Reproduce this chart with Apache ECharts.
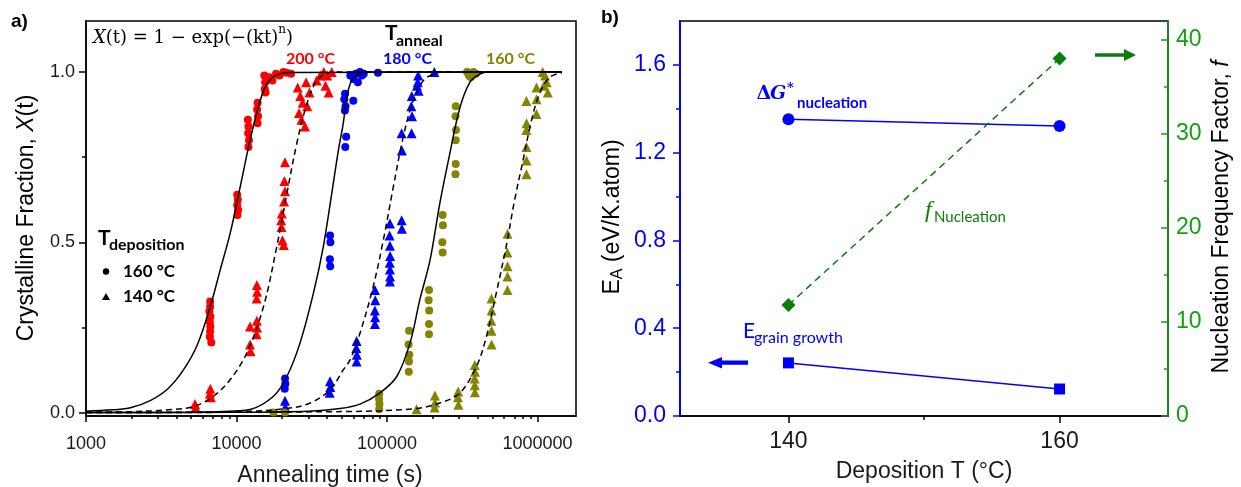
<!DOCTYPE html>
<html><head><meta charset="utf-8">
<script src="https://cdn.jsdelivr.net/npm/echarts@6/dist/echarts.min.js"></script>
<style>html,body{margin:0;padding:0;background:#fff}#c{width:1241px;height:487px}</style>
</head><body><div id="c"></div>
<script>
// ---------- Panel a) tick values ----------
const xMajorTicks = [1000, 10000, 100000, 1000000];
const xMinorTicks = [2000,3000,4000,5000,6000,7000,8000,9000,20000,30000,40000,50000,60000,70000,80000,90000,200000,300000,400000,500000,600000,700000,800000,900000];
const yMajorTicks = [0, 0.5, 1.0];
const yMinorTicks = [0.25, 0.75];

// ---------- Panel a) fitted curves (read from picture) ----------
const red160CurveT = [1000,1500,2000,2670,3500,4450,5500,6680,7800,9080,10570,12300,14350,15900,18500,22700,1450000];
const red160CurveX = [0.004,0.008,0.015,0.035,0.07,0.126,0.2,0.31,0.42,0.527,0.662,0.8,0.916,0.965,0.992,0.999,1.0];
const red140CurveT = [1000,2000,3500,5180,7030,9080,11700,15100,18500,21600,25100,29300,34100,39700,45000,1450000];
const red140CurveX = [0.001,0.003,0.008,0.018,0.048,0.097,0.175,0.311,0.487,0.643,0.789,0.906,0.975,0.996,1.0,1.0];
const blue160CurveT = [1000,5000,9000,12300,17600,21600,26400,32400,37700,42900,47500,51200,54000,58200,66100,75000,1450000];
const blue160CurveX = [0.0,0.001,0.004,0.009,0.048,0.106,0.204,0.35,0.487,0.643,0.77,0.85,0.926,0.975,0.996,1.0,1.0];
const blue140CurveT = [1000,10000,21600,30800,41800,51300,56800,66100,80900,94400,110000,128000,149000,174000,203000,230000,1450000];
const blue140CurveX = [0.0,0.003,0.012,0.028,0.067,0.126,0.155,0.233,0.37,0.506,0.662,0.809,0.916,0.975,0.994,1.0,1.0];
const olive160CurveT = [1000,10000,30000,48700,66100,89800,116000,142000,165000,193000,224000,261000,305000,355000,413000,470000,1450000];
const olive160CurveX = [0.0,0.001,0.004,0.012,0.025,0.058,0.106,0.204,0.331,0.448,0.614,0.76,0.896,0.97,0.994,1.0,1.0];
const olive140CurveT = [1000,50000,149000,224000,305000,393000,457000,531000,618000,703000,800000,910000,1030000,1200000,1450000];
const olive140CurveX = [0.0,0.003,0.011,0.028,0.058,0.136,0.223,0.35,0.487,0.623,0.74,0.857,0.936,0.984,0.998];

// ---------- Panel a) measured points [time (s), fraction] ----------
const red160Points = [[6680,0.326],[6680,0.311],[6600,0.297],[6700,0.282],[6650,0.267],[6700,0.253],[6680,0.238],[6650,0.223],[6800,0.206],
  [10100,0.64],[10200,0.625],[10100,0.61],[10250,0.595],[10150,0.58],
  [11900,0.86],[12000,0.84],[11950,0.82],[12100,0.80],[12000,0.78],
  [13800,0.91],[13700,0.89],[13900,0.87],[13800,0.85],
  [15300,0.99],[15500,0.97],[15400,0.95],[15600,0.94],
  [16500,0.985],[17300,0.975],[18300,0.995],[19300,0.99],[20500,1.0],[21500,0.998],[23000,0.995]];
const red140Points = [[5300,0.025],[5350,0.015],
  [6700,0.07],[6650,0.055],[6750,0.045],
  [12300,0.2],[12400,0.18],[12300,0.253],
  [13650,0.375],[13700,0.355],[13600,0.335],[13650,0.27],[13700,0.25],[13600,0.23],
  [21000,0.735],[20800,0.68],[21000,0.65],[20700,0.62],[20000,0.585],[19800,0.565],[19900,0.545],[20200,0.506],[20600,0.492],
  [25500,0.955],[26500,0.93],[27500,0.91],[26000,0.88],[27000,0.86],[28500,0.84],[29500,0.9],[30500,0.94],[29000,0.97],
  [34100,0.975],[36000,0.99],[38000,1.0],[40000,0.99],[42900,1.0],[39000,0.96],[41000,0.94]];
const blue160Points = [[21000,0.10],[21100,0.085],[20900,0.07],
  [41800,0.52],[42000,0.50],[41700,0.45],[41900,0.43],
  [52600,0.936],[52000,0.92],[53000,0.9],[52500,0.887],[53500,0.81],[52800,0.78],
  [59700,0.916],
  [57000,0.99],[60000,0.98],[62000,0.995],[64000,0.97],[66000,1.0],[68000,0.99],[70000,0.995],
  [87000,0.998]];
const blue140Points = [[21000,0.035],[21100,0.016],
  [41800,0.092],[42000,0.075],[41600,0.058],
  [62800,0.21],[62500,0.19],[63000,0.17],[62800,0.15],
  [83100,0.36],[83500,0.33],[83000,0.30],[83300,0.28],[83100,0.26],
  [104500,0.555],[104000,0.52],[104500,0.49],[104800,0.46],[104200,0.44],[104500,0.42],[104700,0.40],[104500,0.385],
  [125000,0.565],[125500,0.54],[125000,0.82],[125500,0.77],
  [146000,0.93],[145000,0.90],[146500,0.87],[145500,0.82],
  [161000,0.99],[160000,0.97],[162000,0.945],[158000,0.96],
  [206000,1.0]];
const olive160Points = [[17600,0.0],[21000,0.0],
  [88700,0.055],[88500,0.04],[89000,0.025],[88700,0.01],
  [140000,0.24],[139000,0.2],[140500,0.17],[140000,0.15],[139500,0.12],
  [190000,0.36],[189000,0.33],[190500,0.3],[190000,0.26],[190000,0.23],
  [234000,0.58],[235000,0.55],[233000,0.5],[234000,0.47],
  [286000,0.9],[285000,0.87],[287000,0.83],[286000,0.8],[286000,0.73],[285000,0.7],
  [340000,1.0],[350000,0.99],[360000,0.985],[375000,1.0],[390000,0.995]];
const olive140Points = [[157000,0.01],
  [208000,0.05],[208500,0.03],[207000,0.015],
  [297000,0.062],[296000,0.045],[298000,0.023],
  [383000,0.14],[384000,0.12],[382000,0.1],[383000,0.08],[383500,0.06],
  [494000,0.335],[495000,0.3],[493000,0.27],[494000,0.24],[494500,0.2],
  [631000,0.525],[630000,0.47],[632000,0.43],[631000,0.4],[631000,0.36],
  [843000,0.915],[845000,0.85],[842000,0.83],[843000,0.78],[844000,0.74],[843000,0.7],
  [984000,0.955],[985000,0.92],[983000,0.877],
  [1080000,1.0],[1120000,0.99],[1150000,0.97],[1170000,0.94],[1100000,0.96]];

// ---------- Panel b) ----------
const depTicks = [140, 160];
const depMinorTicks = [150];
const eaTicks = [0, 0.4, 0.8, 1.2, 1.6];
const eaMinorTicks = [0.2, 0.6, 1.0, 1.4];
const fTicks = [0, 10, 20, 30, 40];
const fMinorTicks = [5, 15, 25, 35];
const depositionT = [140, 160];
const dGNucleation = [1.352, 1.321];
const eGrainGrowth = [0.242, 0.123];
const fNucleation = [11.8, 38.0];

const RED = '#ff0000', BLUE = '#0000ff', OLIVE = '#848400';
const GREEN_AX = '#12a012', GREEN_MK = '#0b7d0b';
const SANS = "'Liberation Sans', Arial, sans-serif";
const CAL = "Lato, 'Open Sans', sans-serif";
const SERIF = "'DejaVu Serif', 'Liberation Serif', serif";

const zip = (a, b) => a.map((v, i) => [v, b[i]]);
function curve(ts, xs, dashed) {
  return {type: 'line', xAxisIndex: 0, yAxisIndex: 0, data: zip(ts, xs), showSymbol: false, symbol: 'none',
    smooth: 0.35, lineStyle: {color: '#000', width: 1.5, type: dashed ? [6, 4] : 'solid'}, z: 4, silent: true};
}
function scat(pts, color, sym, size) {
  return {type: 'scatter', xAxisIndex: 0, yAxisIndex: 0, data: pts, symbol: sym, symbolSize: size,
    itemStyle: {color: color, opacity: 1}, z: 3, silent: true};
}
const tickLine = c => ({color: c, width: 1.5});

const option = {
  animation: false,
  backgroundColor: '#fff',
  grid: [
    {left: 86, top: 21, width: 490, height: 395, show: true, borderColor: '#000', borderWidth: 1.5, outerBoundsMode: 'none'},
    {left: 680, top: 21, width: 488, height: 395, show: true, borderColor: '#000', borderWidth: 1.5, outerBoundsMode: 'none'}
  ],
  xAxis: [
    {type: 'log', logBase: 10, gridIndex: 0, position: 'bottom', min: 1000, max: 1800000,
      axisLine: {show: true, onZero: false, lineStyle: {color: '#000', width: 1.5}},
      axisTick: {show: true, customValues: xMajorTicks, length: 6, lineStyle: tickLine('#000')},
      axisLabel: {customValues: xMajorTicks, formatter: v => String(Math.round(v)), fontSize: 18, fontFamily: SANS, color: '#1a1a1a', margin: 19},
      splitLine: {show: false}},
    {type: 'log', logBase: 10, gridIndex: 0, position: 'bottom', min: 1000, max: 1800000,
      axisLine: {show: false, onZero: false}, axisTick: {show: true, customValues: xMinorTicks, length: 3, lineStyle: tickLine('#000')},
      axisLabel: {show: false}, splitLine: {show: false}},
    {type: 'value', gridIndex: 1, position: 'bottom', min: 132, max: 168,
      axisLine: {show: true, onZero: false, lineStyle: {color: '#000', width: 1.5}},
      axisTick: {show: true, customValues: depTicks, length: 7, lineStyle: tickLine('#000')},
      axisLabel: {customValues: depTicks, fontSize: 23, fontFamily: SANS, color: '#1a1a1a', margin: 14},
      splitLine: {show: false}},
    {type: 'value', gridIndex: 1, position: 'bottom', min: 132, max: 168,
      axisLine: {show: false, onZero: false}, axisTick: {show: true, customValues: depMinorTicks, length: 4, lineStyle: tickLine('#000')},
      axisLabel: {show: false}, splitLine: {show: false}}
  ],
  yAxis: [
    {type: 'value', gridIndex: 0, position: 'left', min: -0.01, max: 1.15,
      axisLine: {show: true, onZero: false, lineStyle: {color: '#000', width: 1.5}},
      axisTick: {show: true, customValues: yMajorTicks, length: 7, lineStyle: tickLine('#000')},
      axisLabel: {customValues: yMajorTicks, formatter: v => v.toFixed(1), fontSize: 18, fontFamily: SANS, color: '#1a1a1a', margin: 11},
      splitLine: {show: false}},
    {type: 'value', gridIndex: 0, position: 'left', min: -0.01, max: 1.15,
      axisLine: {show: false, onZero: false}, axisTick: {show: true, customValues: yMinorTicks, length: 4, lineStyle: tickLine('#000')},
      axisLabel: {show: false}, splitLine: {show: false}},
    {type: 'value', gridIndex: 1, position: 'left', min: 0, max: 1.8,
      axisLine: {show: true, onZero: false, lineStyle: {color: BLUE, width: 2}},
      axisTick: {show: true, customValues: eaTicks, length: 7, lineStyle: tickLine(BLUE)},
      axisLabel: {customValues: eaTicks, formatter: v => v.toFixed(1), fontSize: 23, fontFamily: SANS, color: BLUE, margin: 14},
      splitLine: {show: false}},
    {type: 'value', gridIndex: 1, position: 'left', min: 0, max: 1.8,
      axisLine: {show: false, onZero: false}, axisTick: {show: true, customValues: eaMinorTicks, length: 4, lineStyle: tickLine(BLUE)},
      axisLabel: {show: false}, splitLine: {show: false}},
    {type: 'value', gridIndex: 1, position: 'right', min: 0, max: 42,
      axisLine: {show: true, onZero: false, lineStyle: {color: GREEN_AX, width: 1.5}},
      axisTick: {show: true, inside: true, customValues: fTicks, length: 7, lineStyle: tickLine(GREEN_AX)},
      axisLabel: {customValues: fTicks, formatter: v => String(v), fontSize: 23, fontFamily: SANS, color: GREEN_AX, margin: 8},
      splitLine: {show: false}},
    {type: 'value', gridIndex: 1, position: 'right', min: 0, max: 42,
      axisLine: {show: false, onZero: false}, axisTick: {show: true, inside: true, customValues: fMinorTicks, length: 4, lineStyle: tickLine(GREEN_AX)},
      axisLabel: {show: false}, splitLine: {show: false}}
  ],
  series: [
    scat(red160Points, RED, 'circle', 8),
    scat(red140Points, RED, 'triangle', 10),
    scat(blue160Points, BLUE, 'circle', 8),
    scat(blue140Points, BLUE, 'triangle', 10),
    scat(olive160Points, OLIVE, 'circle', 8),
    scat(olive140Points, OLIVE, 'triangle', 10),
    curve(red160CurveT, red160CurveX, false),
    curve(red140CurveT, red140CurveX, true),
    curve(blue160CurveT, blue160CurveX, false),
    curve(blue140CurveT, blue140CurveX, true),
    curve(olive160CurveT, olive160CurveX, false),
    curve(olive140CurveT, olive140CurveX, true),
    {type: 'line', xAxisIndex: 2, yAxisIndex: 2, data: zip(depositionT, dGNucleation), symbol: 'circle', symbolSize: 12,
      itemStyle: {color: BLUE}, lineStyle: {color: BLUE, width: 1.5}, z: 3},
    {type: 'line', xAxisIndex: 2, yAxisIndex: 2, data: zip(depositionT, eGrainGrowth), symbol: 'rect', symbolSize: 11,
      itemStyle: {color: BLUE}, lineStyle: {color: BLUE, width: 1.5}, z: 3},
    {type: 'line', xAxisIndex: 2, yAxisIndex: 4, data: zip(depositionT, fNucleation), symbol: 'diamond', symbolSize: 14,
      itemStyle: {color: GREEN_MK}, lineStyle: {color: GREEN_MK, width: 1.5, type: [7, 5]}, z: 3}
  ],
  graphic: [
    // panel labels
    {type: 'text', style: {text: 'a)', x: 11, y: 22, font: "bold 19px " + SANS, fill: '#000', textVerticalAlign: 'middle'}},
    {type: 'text', style: {text: 'b)', x: 601, y: 18, font: "bold 19px " + SANS, fill: '#000', textVerticalAlign: 'middle'}},
    // panel a axis titles
    {type: 'text', x: 27, y: 218, rotation: Math.PI / 2, style: {text: '{n|Crystalline Fraction, }{i|X}{n|(t)}', textAlign: 'center', textVerticalAlign: 'middle',
      rich: {n: {fontSize: 23, fontFamily: SANS, color: '#1a1a1a'}, i: {fontSize: 23, fontFamily: SANS, fontStyle: 'italic', color: '#1a1a1a'}}}},
    {type: 'text', style: {text: 'Annealing time (s)', x: 330, y: 476, font: "23px " + SANS, fill: '#1a1a1a', textAlign: 'center', textVerticalAlign: 'middle'}},
    // formula
    {type: 'text', style: {text: '{i|X}{r|(t) = 1 − exp(−(kt)}{s|n}{r|)}', x: 93, y: 38, textVerticalAlign: 'middle',
      rich: {i: {fontSize: 18, fontFamily: SERIF, fontStyle: 'italic', color: '#222', lineHeight: 28},
             r: {fontSize: 18, fontFamily: SERIF, color: '#222', lineHeight: 28},
             s: {fontSize: 12, fontFamily: SERIF, color: '#222', lineHeight: 14, verticalAlign: 'top'}}}},
    // T anneal
    {type: 'text', style: {text: 'T', x: 385, y: 33, font: "bold 21px " + CAL, fill: '#000', textVerticalAlign: 'middle'}},
    {type: 'text', style: {text: 'anneal', x: 396, y: 41, font: "bold 16px " + CAL, fill: '#000', textVerticalAlign: 'middle'}},
    {type: 'text', style: {text: '200 °C', x: 286, y: 58.5, font: "bold 16px " + CAL, fill: RED, textVerticalAlign: 'middle'}},
    {type: 'text', style: {text: '180 °C', x: 383, y: 58.5, font: "bold 16px " + CAL, fill: BLUE, textVerticalAlign: 'middle'}},
    {type: 'text', style: {text: '160 °C', x: 486, y: 58.5, font: "bold 16px " + CAL, fill: OLIVE, textVerticalAlign: 'middle'}},
    // T deposition legend
    {type: 'text', style: {text: 'T', x: 98, y: 238, font: "bold 21px " + CAL, fill: '#000', textVerticalAlign: 'middle'}},
    {type: 'text', style: {text: 'deposition', x: 109, y: 245, font: "bold 16px " + CAL, fill: '#000', textVerticalAlign: 'middle'}},
    {type: 'circle', shape: {cx: 106, cy: 271.5, r: 3.2}, style: {fill: '#000'}},
    {type: 'polygon', shape: {points: [[102, 300], [110, 300], [106, 293]]}, style: {fill: '#000'}},
    {type: 'text', style: {text: '160 °C', x: 123, y: 271.5, font: "bold 17px " + CAL, fill: '#000', textVerticalAlign: 'middle'}},
    {type: 'text', style: {text: '140 °C', x: 123, y: 297, font: "bold 17px " + CAL, fill: '#000', textVerticalAlign: 'middle'}},
    // panel b axis titles
    {type: 'text', style: {text: 'Deposition T (°C)', x: 924, y: 472, font: "23px " + SANS, fill: '#1a1a1a', textAlign: 'center', textVerticalAlign: 'middle'}},
    {type: 'text', x: 613, y: 217, rotation: Math.PI / 2, style: {text: '{n|E}{s|A}{n| (eV/K.atom)}', textAlign: 'center', textVerticalAlign: 'middle',
      rich: {n: {fontSize: 23, fontFamily: SANS, color: BLUE, lineHeight: 26}, s: {fontSize: 16, fontFamily: SANS, color: BLUE, lineHeight: 16, verticalAlign: 'bottom'}}}},
    {type: 'text', x: 1222, y: 217, rotation: Math.PI / 2, style: {text: '{n|Nucleation Frequency Factor, }{i|f}', textAlign: 'center', textVerticalAlign: 'middle',
      rich: {n: {fontSize: 23, fontFamily: SANS, color: GREEN_AX}, i: {fontSize: 23, fontFamily: SANS, fontStyle: 'italic', color: GREEN_AX}}}},
    // panel b annotations
    {type: 'text', style: {text: 'Δ', x: 756.5, y: 94, font: "bold 19px 'DejaVu Serif', serif", fill: BLUE, textVerticalAlign: 'middle'}},
    {type: 'text', style: {text: 'G', x: 770, y: 94, font: "italic bold 19px 'DejaVu Serif', serif", fill: BLUE, textVerticalAlign: 'middle'}},
    {type: 'text', style: {text: '*', x: 787, y: 89, font: "bold 13px 'DejaVu Serif', serif", fill: BLUE, textVerticalAlign: 'middle'}},
    {type: 'text', style: {text: 'nucleation', x: 797, y: 103, font: "bold 15px " + CAL, fill: BLUE, textVerticalAlign: 'middle'}},
    {type: 'text', style: {text: 'E', x: 743, y: 331, font: "21px " + CAL, fill: BLUE, textVerticalAlign: 'middle'}},
    {type: 'text', style: {text: 'grain growth', x: 754, y: 338, font: "16px " + CAL, fill: BLUE, textVerticalAlign: 'middle'}},
    {type: 'text', style: {text: 'f', x: 925, y: 211, font: "italic 24px 'Liberation Serif', serif", fill: GREEN_MK, textVerticalAlign: 'middle'}},
    {type: 'text', style: {text: 'Nucleation', x: 934, y: 217, font: "15px " + CAL, fill: GREEN_MK, textVerticalAlign: 'middle'}},
    {type: 'polygon', shape: {points: [[708, 362.7], [722, 357], [722, 360.6], [748, 360.6], [748, 364.8], [722, 364.8], [722, 368.4]]}, style: {fill: BLUE}},
    {type: 'polygon', shape: {points: [[1136, 55], [1124, 49], [1124, 53.2], [1095, 53.2], [1095, 56.8], [1124, 56.8], [1124, 61]]}, style: {fill: GREEN_MK}}
  ]
};
const chart = echarts.init(document.getElementById('c'), null, {renderer: 'canvas'});
chart.setOption(option);
</script>
</body></html>
